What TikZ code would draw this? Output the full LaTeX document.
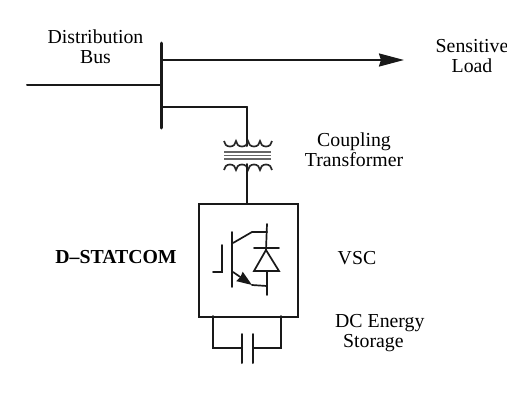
\documentclass[tikz,border=0pt]{standalone}
\usepackage{fontspec}
\setmainfont{Liberation Serif}
\usetikzlibrary{arrows.meta,positioning}

\tikzset{
  wire/.style={line width=2pt, black!90, line cap=round},
  thin wire/.style={wire, line width=1.7pt},
  lbl/.style={font=\fontsize{19.8}{20}\selectfont, align=center, inner sep=0pt, black},
  coil/.style={line width=1.7pt, black!85},
  core/.style={line width=1.3pt, black!60},
}

\begin{document}
\begin{tikzpicture}[x=1pt, y=-1pt]
  \useasboundingbox (0,0) rectangle (507,405);

  % bus and feeders
  \coordinate (bus_top) at (161,43);
  \coordinate (bus_bot) at (161,128);
  \coordinate (feed_in) at (27,85);
  \coordinate (bus_in) at (161,85);
  \coordinate (bus_load) at (161,60);
  \coordinate (load_end) at (404,60);
  \coordinate (bus_tr) at (161,107);
  \coordinate (tr_corner) at (247,107);
  \draw [wire, line width=3pt] (bus_top) -- (bus_bot);
  \draw [wire] (feed_in) -- (bus_in);
  \draw [wire, -{Stealth[length=25pt, width=13pt, inset=2pt]}] (bus_load) -- (load_end);
  \draw [wire] (bus_tr) -- (tr_corner);

  % transformer
  \coordinate (tr_top) at (247,146);
  \coordinate (tr_bot) at (247,164);
  \draw [wire] (tr_corner) -- (tr_top);
  \draw [coil] (224,141) arc (180:0:6 and 5.5) arc (180:0:6 and 5.5)
               arc (180:0:6 and 5.5) arc (180:0:6 and 5.5);
  \draw [core] (224,152) -- (271,152);
  \draw [core] (224,155.5) -- (271,155.5);
  \draw [core] (224,159) -- (271,159);
  \draw [coil] (224,170) arc (180:360:6 and 5.5) arc (180:360:6 and 5.5)
               arc (180:360:6 and 5.5) arc (180:360:6 and 5.5);

  % converter box
  \node [draw, wire, line cap=butt, minimum width=99pt, minimum height=113pt, inner sep=0pt,
         anchor=north west] (vsc) at (198,203) {};
  \draw [wire] (tr_bot) -- (vsc.north -| tr_bot);

  % igbt
  \coordinate (gate_in) at (213,272);
  \coordinate (gate_foot) at (222,272);
  \coordinate (gate_top) at (222,245);
  \coordinate (chan_top) at (232,232);
  \coordinate (chan_bot) at (232,287);
  \coordinate (col_a) at (233,243);
  \coordinate (col_b) at (252,232);
  \coordinate (col_c) at (267,232);
  \coordinate (emi_a) at (233,272);
  \coordinate (emi_b) at (252,285);
  \coordinate (emi_c) at (267,286);
  \draw [thin wire] (gate_in) -- (gate_foot) -- (gate_top);
  \draw [thin wire] (chan_top) -- (chan_bot);
  \draw [thin wire] (col_a) -- (col_b) -- (col_c);
  \draw [thin wire, -{Stealth[length=15pt, width=11pt, inset=1pt]}] (emi_a) -- (emi_b);
  \draw [thin wire] (emi_b) -- (emi_c);

  % diode
  \coordinate (dio_top) at (267,224);
  \coordinate (dio_bot) at (267,295);
  \coordinate (dio_tip) at (266,250);
  \coordinate (dio_l) at (254,271);
  \coordinate (dio_r) at (279,271);
  \coordinate (dio_mid) at (267,271);
  \coordinate (bar_l) at (254,248);
  \coordinate (bar_r) at (279,248);
  \draw [thin wire] (dio_top) -- (dio_tip);
  \draw [thin wire] (dio_l) -- (dio_r) -- (dio_tip) -- cycle;
  \draw [thin wire] (bar_l) -- (bar_r);
  \draw [thin wire] (dio_mid) -- (dio_bot);

  % dc capacitor
  \coordinate (cap_l) at (213,316);
  \coordinate (cap_r) at (281,316);
  \coordinate (cap_ll) at (213,348);
  \coordinate (cap_rr) at (281,348);
  \coordinate (plate_l) at (242,348);
  \coordinate (plate_r) at (253,348);
  \coordinate (plate_lt) at (242,334);
  \coordinate (plate_lb) at (242,363);
  \coordinate (plate_rt) at (253,334);
  \coordinate (plate_rb) at (253,363);
  \draw [wire] (cap_l) -- (cap_ll) -- (plate_l);
  \draw [wire] (cap_r) -- (cap_rr) -- (plate_r);
  \draw [wire] (plate_lt) -- (plate_lb);
  \draw [wire] (plate_rt) -- (plate_rb);

  % labels
  \node [lbl] (bus_lbl) at (95.5,47) {Distribution\\Bus};
  \node [lbl] (load_lbl) at (472,56) {Sensitive\\Load};
  \node [lbl] (tr_lbl) at (354,150) {Coupling\\Transformer};
  \node [lbl, font=\fontsize{19.8}{20}\selectfont\bfseries] (dst_lbl) at (116,257) {D--STATCOM};
  \node [lbl] (vsc_lbl) at (357,258) {VSC};
  \node [lbl, align=left, anchor=west] (dc_lbl) at (335,333) {DC Energy\\\hspace*{8pt}Storage};
\end{tikzpicture}
\end{document}
